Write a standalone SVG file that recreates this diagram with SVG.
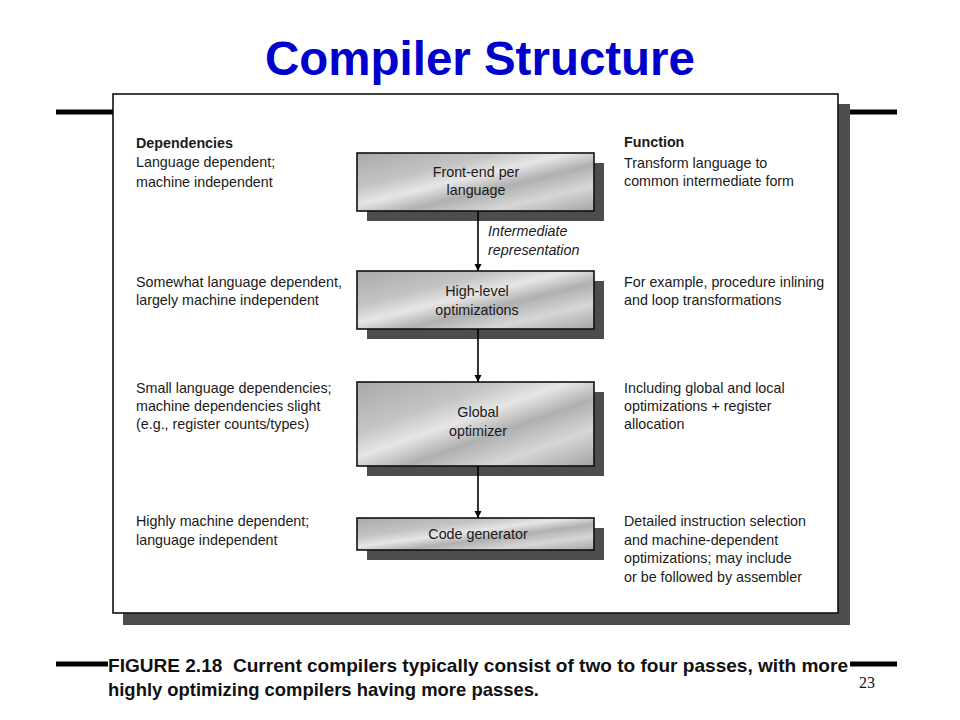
<svg xmlns="http://www.w3.org/2000/svg" width="960" height="720" viewBox="0 0 960 720">
<defs>
<linearGradient id="metal" x1="0" y1="0" x2="1" y2="1">
<stop offset="0" stop-color="#a9a9a9"/>
<stop offset="0.3" stop-color="#c4c4c4"/>
<stop offset="0.45" stop-color="#e6e6e6"/>
<stop offset="0.6" stop-color="#b0b0b0"/>
<stop offset="0.78" stop-color="#d6d6d6"/>
<stop offset="1" stop-color="#a4a4a4"/>
</linearGradient>
<marker id="arr" viewBox="0 0 10 10" refX="10" refY="5" markerWidth="7" markerHeight="8" orient="auto" markerUnits="userSpaceOnUse">
<path d="M0,0 L10,5 L0,10 Z" fill="#000"/>
</marker>
<style>
.t{font-family:"Liberation Sans",Arial,sans-serif;font-size:14.3px;fill:#1a1a1a}
.b{font-weight:bold}
.c{text-anchor:middle}
.i{font-style:italic}
.box{fill:url(#metal);stroke:#111;stroke-width:1.6}
.sh{fill:#4d4d4d}
.bar{stroke:#000;stroke-width:5}
.cap{font-family:"Liberation Sans",Arial,sans-serif;font-size:18.5px;font-weight:bold;fill:#111}
</style>
</defs>
<rect width="960" height="720" fill="#fff"/>
<text x="480" y="75" text-anchor="middle" font-family="Liberation Sans,Arial,sans-serif" font-size="48" font-weight="bold" fill="#0000cc" textLength="430" lengthAdjust="spacingAndGlyphs">Compiler Structure</text>
<line class="bar" x1="56" y1="112" x2="114" y2="112"/>
<line class="bar" x1="838" y1="112" x2="897" y2="112"/>
<rect x="123" y="104" width="727" height="521" class="sh"/>
<rect x="113" y="94" width="725" height="519" fill="#fff" stroke="#111" stroke-width="1.6"/>
<line class="bar" x1="56" y1="664" x2="108" y2="664"/>
<line class="bar" x1="850" y1="664" x2="897" y2="664"/>
<text class="cap" x="108" y="672" textLength="740" lengthAdjust="spacingAndGlyphs" xml:space="preserve">FIGURE 2.18  Current compilers typically consist of two to four passes, with more</text>
<text class="cap" x="108" y="696" textLength="431" lengthAdjust="spacingAndGlyphs">highly optimizing compilers having more passes.</text>
<text x="859" y="688" font-family="Liberation Serif,Times New Roman,serif" font-size="16" fill="#111">23</text>
<g id="left-labels">
<text class="t b" x="136" y="148">Dependencies</text>
<text class="t" x="136" y="167">Language dependent;</text>
<text class="t" x="136" y="187">machine independent</text>
<text class="t" x="136" y="287">Somewhat language dependent,</text>
<text class="t" x="136" y="305">largely machine independent</text>
<text class="t" x="136" y="393">Small language dependencies;</text>
<text class="t" x="136" y="411">machine dependencies slight</text>
<text class="t" x="136" y="429">(e.g., register counts/types)</text>
<text class="t" x="136" y="526">Highly machine dependent;</text>
<text class="t" x="136" y="545">language independent</text>
</g>
<g id="right-labels">
<text class="t b" x="624" y="147">Function</text>
<text class="t" x="624" y="168">Transform language to</text>
<text class="t" x="624" y="186">common intermediate form</text>
<text class="t" x="624" y="287">For example, procedure inlining</text>
<text class="t" x="624" y="305">and loop transformations</text>
<text class="t" x="624" y="393">Including global and local</text>
<text class="t" x="624" y="411">optimizations + register</text>
<text class="t" x="624" y="429">allocation</text>
<text class="t" x="624" y="526">Detailed instruction selection</text>
<text class="t" x="624" y="545">and machine-dependent</text>
<text class="t" x="624" y="563">optimizations; may include</text>
<text class="t" x="624" y="582">or be followed by assembler</text>
</g>
<g id="front-end">
<rect class="sh" x="367" y="163" width="237" height="58"/>
<rect class="box" x="357" y="153" width="237" height="58"/>
<text class="t c" x="476" y="177">Front-end per</text>
<text class="t c" x="476" y="195">language</text>
</g>
<g id="high-level">
<rect class="sh" x="367" y="281" width="237" height="58"/>
<rect class="box" x="357" y="271" width="237" height="58"/>
<text class="t c" x="477" y="296">High-level</text>
<text class="t c" x="477" y="315">optimizations</text>
</g>
<g id="global">
<rect class="sh" x="367" y="392" width="237" height="84"/>
<rect class="box" x="357" y="382" width="237" height="84"/>
<text class="t c" x="478" y="417">Global</text>
<text class="t c" x="478" y="436">optimizer</text>
</g>
<g id="codegen">
<rect class="sh" x="367" y="528" width="237" height="32"/>
<rect class="box" x="357" y="518" width="237" height="32"/>
<text class="t c" x="478" y="539">Code generator</text>
</g>
<g id="connectors" stroke="#000" stroke-width="1.6" fill="none">
<line x1="478" y1="211" x2="478" y2="271" marker-end="url(#arr)"/>
<line x1="478" y1="329" x2="478" y2="382" marker-end="url(#arr)"/>
<line x1="478" y1="466" x2="478" y2="518" marker-end="url(#arr)"/>
</g>
<text class="t i" x="488" y="236">Intermediate</text>
<text class="t i" x="488" y="255">representation</text>
</svg>
